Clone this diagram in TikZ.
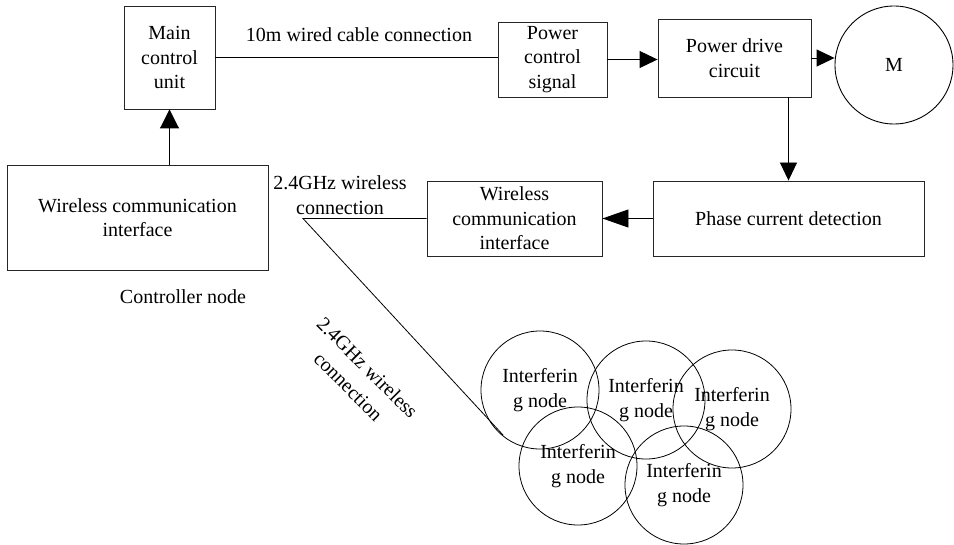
\documentclass[tikz,border=0pt]{standalone}
\usepackage{fontspec}
\setmainfont{Liberation Serif}
\usetikzlibrary{arrows.meta,calc}
\begin{document}
\begin{tikzpicture}[x=1pt,y=-1pt,
  every node/.style={font=\fontsize{20}{24.5}\selectfont},
  blk/.style={draw=black!85, line width=0.9pt, rectangle, inner sep=0pt, align=center},
  ring/.style={draw, line width=0.8pt, circle, minimum size=118pt, inner sep=0pt, align=center},
  wire/.style={line width=0.9pt},
  arr/.style={line width=0.9pt, -{Triangle[length=18pt,width=17pt]}},
  plain/.style={inner sep=0pt, align=center}]
\useasboundingbox (0,0) rectangle (954,545);

% blocks
\node[blk, minimum width=91pt, minimum height=103pt] (main) at (169.5,57.5) {Main\\control\\unit};
\node[blk, minimum width=261pt, minimum height=105pt] (wl) at (137.5,217.5) {Wireless communication\\interface};
\node[blk, minimum width=109pt, minimum height=75pt] (pcs) at (552.5,59.5) {Power\\control\\signal};
\node[blk, minimum width=153pt, minimum height=78pt] (pd) at (734.5,58) {Power drive\\circuit};
\node[ring, line width=0.9pt] (m) at (894,65) {M};
\node[blk, minimum width=271pt, minimum height=75pt] (ph) at (788.5,218.5) {Phase current detection};
\node[blk, minimum width=175pt, minimum height=75pt] (wr) at (514.5,218.5) {Wireless\\communication\\interface};

% labels
\node[plain] (lcable) at (359,35) {10m wired cable connection};
\node[plain] (lwl) at (340,195) {2.4GHz wireless\\connection};
\node[plain] (lctrl) at (183,297) {Controller node};
\node[plain, rotate=-45, font=\fontsize{20}{27}\selectfont] (lrot) at (358,377) {2.4GHz wireless\\connection};

% interfering nodes
\node[ring] (ia) at (540,390) {Interferin\\g node};
\node[ring] (ib) at (646,400) {Interferin\\g node};
\node[ring] (ic) at (732,409) {Interferin\\g node};
\node[ring] (id) at (578,466) {Interferin\\g node};
\node[ring] (ie) at (684,485) {Interferin\\g node};

% connectors
\draw[wire] (main.east) -- (main.east -| pcs.west);
\draw[arr] (pcs.east) -- (pcs.east -| pd.west);
\draw[arr] (pd.east) -- (m.west |- pd.east);
\draw[arr] (ph.north |- pd.south) -- (ph.north);
\draw[arr, -{Triangle[length=26pt,width=18pt]}] (ph.west) -- (wr.east);
\draw[arr, -{Triangle[length=19pt,width=19pt]}] (main.south |- wl.north) -- (main.south);
\coordinate (j) at (303,218.5);
\coordinate (e) at (503,435);
\draw[line width=0.8pt] (wr.west) -- (j) -- (e);
\end{tikzpicture}
\end{document}
